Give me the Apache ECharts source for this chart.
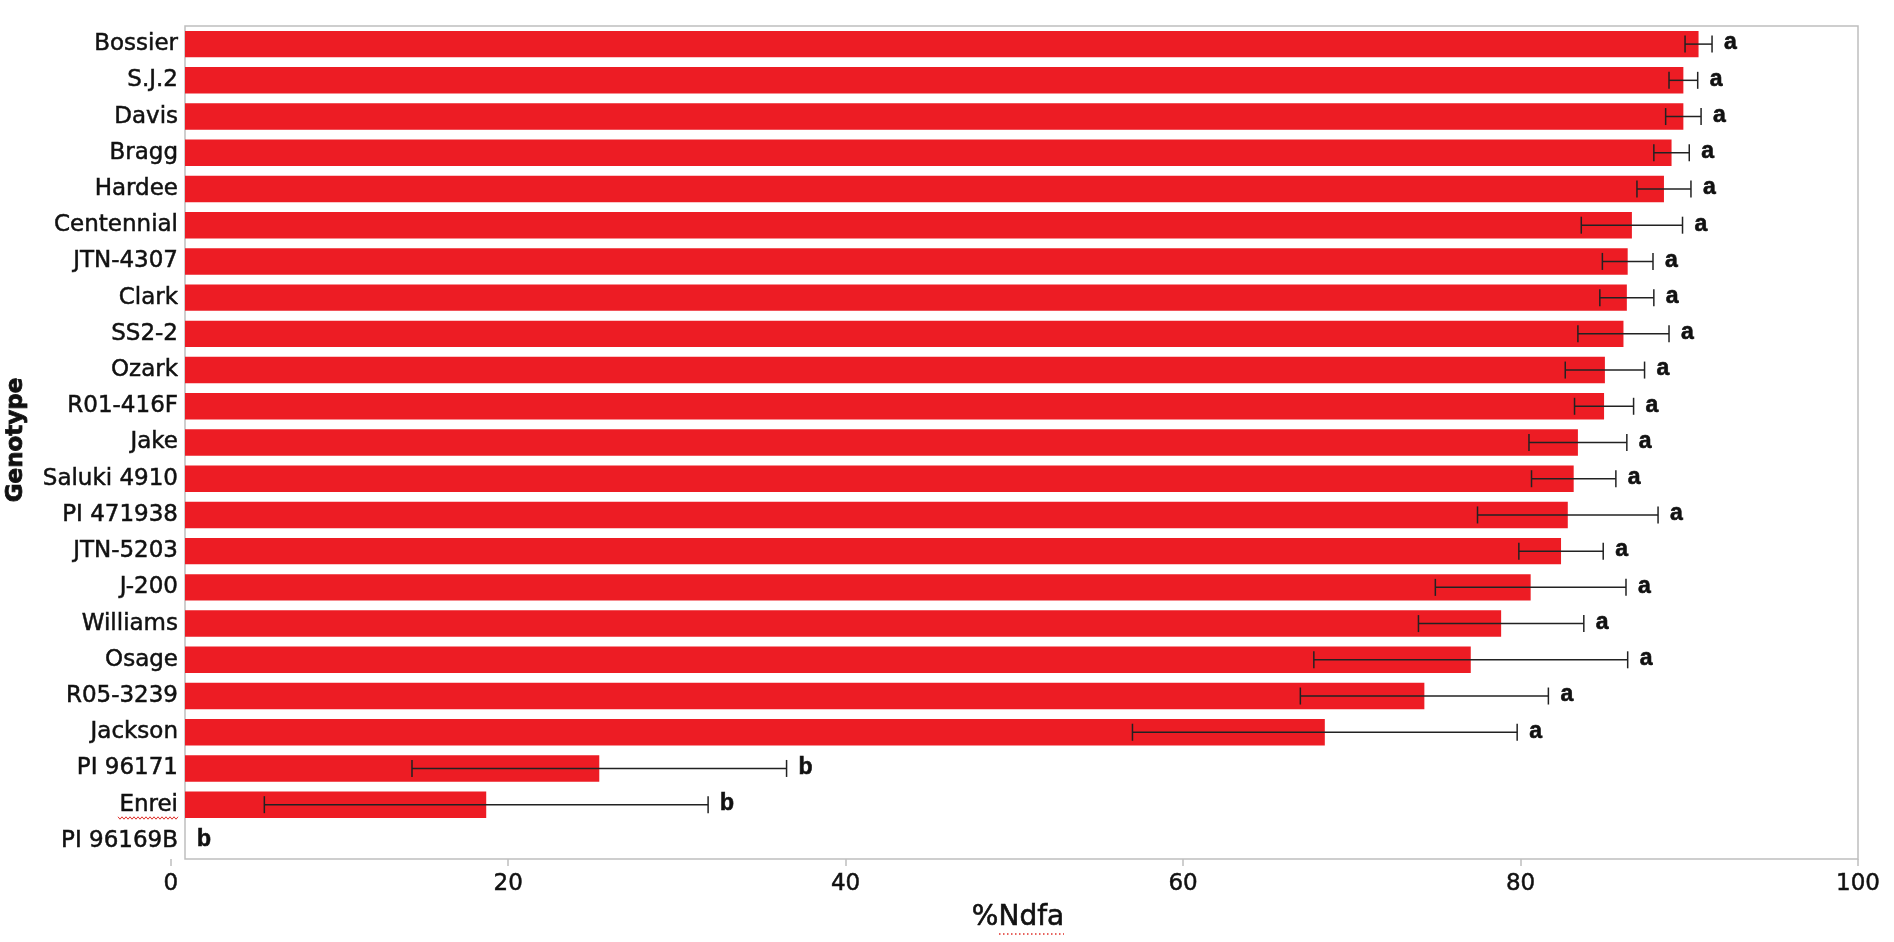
<!DOCTYPE html>
<html>
<head>
<meta charset="utf-8">
<script src="https://cdn.jsdelivr.net/npm/echarts@6/dist/echarts.min.js"></script>
<style>
html,body{margin:0;padding:0;background:#fff;}
#chart{width:1894px;height:942px;}
</style>
</head>
<body>
<div id="chart"></div>
<script>
// ---- data ----
const categories = ['Bossier','S.J.2','Davis','Bragg','Hardee','Centennial','JTN-4307','Clark','SS2-2','Ozark','R01-416F','Jake','Saluki 4910','PI 471938','JTN-5203','J-200','Williams','Osage','R05-3239','Jackson','PI 96171','Enrei','PI 96169B'];
const ndfaMeans = [90.55, 89.65, 89.65, 88.95, 88.5, 86.6, 86.35, 86.3, 86.1, 85.0, 84.95, 83.4, 83.15, 82.8, 82.4, 80.6, 78.85, 77.05, 74.3, 68.4, 25.4, 18.7, 0];
const ndfaErrors = [0.8, 0.85, 1.05, 1.05, 1.6, 3.0, 1.5, 1.6, 2.7, 2.35, 1.75, 2.9, 2.5, 5.35, 2.5, 5.65, 4.9, 9.3, 7.35, 11.4, 11.1, 13.15, 0];
const groupLetters = ['a','a','a','a','a','a','a','a','a','a','a','a','a','a','a','a','a','a','a','a','b','b','b'];
const xTickMin = 0, xTickMax = 100, xTickInterval = 20;

// ---- layout ----
const ZERO_X = 170.7, RIGHT_X = 1858, PLOT_LEFT = 185, TOP = 26, BOTTOM_Y = 859, W = 1894, H = 942;
const barAxisMin = (PLOT_LEFT - ZERO_X) / (RIGHT_X - ZERO_X) * (xTickMax - xTickMin) + xTickMin;

const errData = categories.map((c, i) => [i, ndfaMeans[i] - ndfaErrors[i], ndfaMeans[i] + ndfaErrors[i]]);

// spell-check style squiggle (decoration)
function squiggle(x1, x2, y) {
  const pts = [];
  let up = true;
  for (let x = x1; x <= x2; x += 2) { pts.push([x, y + (up ? -1.2 : 1.2)]); up = !up; }
  return pts;
}

const chart = echarts.init(document.getElementById('chart'), null, {renderer: 'canvas'});
const labelFont = 'DejaVu Sans';

chart.setOption({
  backgroundColor: '#ffffff',
  animation: false,
  grid: [
    {left: PLOT_LEFT, right: W - RIGHT_X, top: TOP, bottom: H - BOTTOM_Y, show: true, borderColor: '#BEBEBE', borderWidth: 1.5, backgroundColor: 'transparent'},
    {left: ZERO_X, right: W - RIGHT_X, top: TOP, bottom: H - BOTTOM_Y, show: false}
  ],
  xAxis: [
    {gridIndex: 0, type: 'value', min: barAxisMin, max: xTickMax, show: true,
     axisLine: {show: false}, axisTick: {show: false}, axisLabel: {show: false}, splitLine: {show: false}},
    {gridIndex: 1, type: 'value', min: xTickMin, max: xTickMax, interval: xTickInterval,
     axisLine: {show: false},
     axisTick: {show: true, length: 7, lineStyle: {color: '#BEBEBE', width: 1.5}},
     axisLabel: {show: true, margin: 14, fontFamily: labelFont, fontSize: 23, color: '#111',
                 textBorderColor: '#111', textBorderWidth: 0.5},
     splitLine: {show: false}}
  ],
  yAxis: [
    {gridIndex: 0, type: 'category', data: categories, inverse: true,
     axisLine: {show: false}, axisTick: {show: false},
     axisLabel: {margin: 7, fontFamily: labelFont, fontSize: 23, color: '#111',
                 textBorderColor: '#111', textBorderWidth: 0.5}},
    {gridIndex: 1, type: 'value', show: false}
  ],
  graphic: [
    {type: 'text', x: 16, y: 440, rotation: Math.PI / 2,
     style: {text: 'Genotype', font: 'bold 23px "DejaVu Sans"', fill: '#111', stroke: '#111', lineWidth: 0.8, align: 'center', verticalAlign: 'middle'}},
    {type: 'text', x: 1018, y: 918,
     style: {text: '%Ndfa', font: '28px "DejaVu Sans"', fill: '#111', stroke: '#111', lineWidth: 0.6, align: 'center', verticalAlign: 'middle'}},
    {type: 'polyline', shape: {points: [[999, 934], [1064, 934]]}, style: {stroke: '#E0302A', lineWidth: 1.5, lineDash: [1.5, 2.5]}},
    {type: 'polyline', shape: {points: squiggle(118, 178, 818)}, style: {stroke: '#E0302A', lineWidth: 1}}
  ],
  series: [
    {type: 'bar', xAxisIndex: 0, yAxisIndex: 0, data: ndfaMeans, barCategoryGap: '27%', z: 2,
     itemStyle: {color: '#ED1C24'}, clip: true},
    {type: 'custom', xAxisIndex: 0, yAxisIndex: 0, data: errData, z: 10,
     encode: {x: [1, 2], y: 0},
     renderItem: function (params, api) {
       const i = api.value(0), lo = api.value(1), hi = api.value(2);
       const p0 = api.coord([lo, i]), p1 = api.coord([hi, i]);
       const cap = 8.5;
       const st = {stroke: '#222', lineWidth: 1.5};
       const children = [];
       if (hi > lo) {
         children.push({type: 'line', z2: 10, shape: {x1: p0[0], y1: p0[1], x2: p1[0], y2: p1[1]}, style: st});
         children.push({type: 'line', z2: 10, shape: {x1: p0[0], y1: p0[1] - cap, x2: p0[0], y2: p0[1] + cap}, style: st});
         children.push({type: 'line', z2: 10, shape: {x1: p1[0], y1: p1[1] - cap, x2: p1[0], y2: p1[1] + cap}, style: st});
       }
       const tx = Math.max(p1[0], params.coordSys.x) + 12;
       children.push({type: 'text', x: tx, y: p1[1] - 1,
         style: {text: groupLetters[params.dataIndex], font: 'bold 23px "Liberation Sans"', fill: '#111', stroke: '#111', lineWidth: 0.6, align: 'left', verticalAlign: 'middle'}});
       return {type: 'group', children: children};
     }}
  ]
});
</script>
</body>
</html>
